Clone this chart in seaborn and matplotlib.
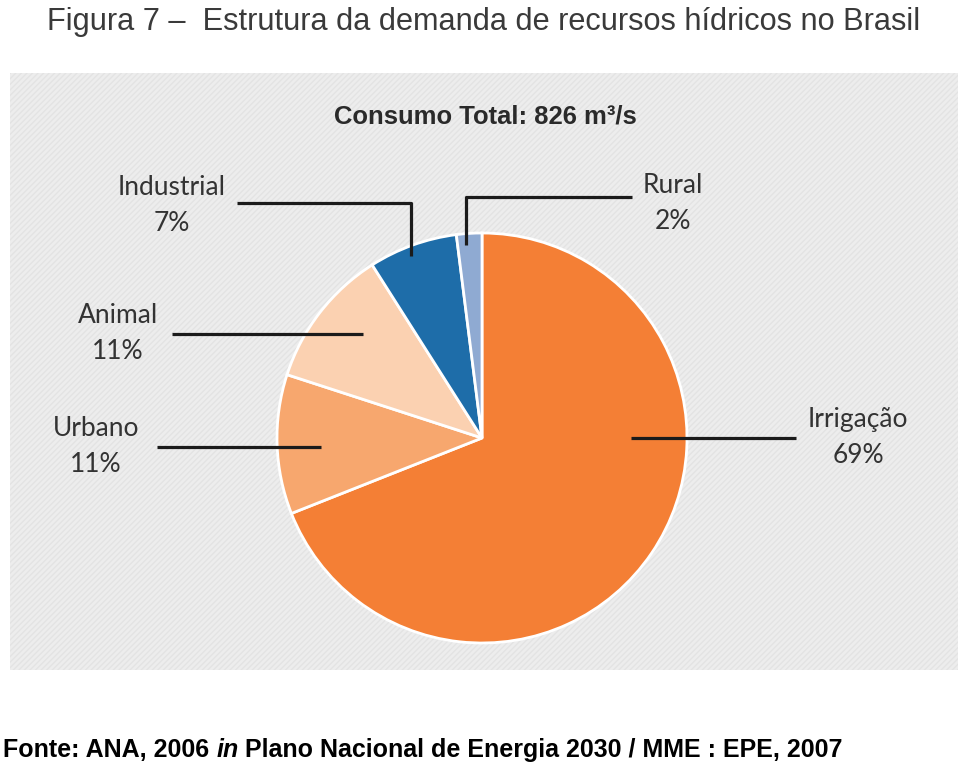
import matplotlib
matplotlib.use("Agg")
import matplotlib.pyplot as plt
import seaborn as sns
from matplotlib import font_manager
from matplotlib.patches import Rectangle

# ---------------- data ----------------
categories = ["Irrigação", "Urbano", "Animal", "Industrial", "Rural"]
shares = [69, 11, 11, 7, 2]
slice_colors = ["#F47F35", "#F7A76E", "#FBD1B1", "#1E6DA9", "#8FAAD2"]
title_text = "Figura 7 –  Estrutura da demanda de recursos hídricos no Brasil"
subtitle_text = "Consumo Total: 826 m³/s"
footer_parts = [("Fonte: ANA, 2006 ", "normal"), ("in", "italic"),
                (" Plano Nacional de Energia 2030 / MME : EPE, 2007", "normal")]

# ---------------- layout (pixel coords, y measured from top) ----------------
W, H = 960, 763
label_pos = {  # centre x, baseline of first line
    "Irrigação": (858, 427),
    "Urbano": (96, 436),
    "Animal": (118, 323),
    "Industrial": (172, 195),
    "Rural": (673, 193),
}
leader_lines = {
    "Irrigação": [(631, 438), (796, 438)],
    "Urbano": [(157, 447), (321, 447)],
    "Animal": [(172, 334), (363, 334)],
    "Industrial": [(237, 203), (411, 203), (411, 256)],
    "Rural": [(632, 197), (466, 197), (466, 245)],
}

sns.set_theme(style="white")


def has_font(name):
    try:
        font_manager.findfont(font_manager.FontProperties(family=name),
                              fallback_to_default=False)
        return True
    except Exception:
        return False


narrow = "Liberation Sans Narrow" if has_font("Liberation Sans Narrow") else "Liberation Sans"
label_font = "Lato" if has_font("Lato") else "DejaVu Sans"
plt.rcParams["font.family"] = [label_font, "DejaVu Sans"]

fig = plt.figure(figsize=(W / 100, H / 100), dpi=100)
fig.patch.set_facecolor("white")
ax = fig.add_axes([0, 0, 1, 1])


def Y(y):
    return H - y


# background panel
ax.add_patch(Rectangle((10, Y(670)), 948, 597, facecolor="#EDEDED",
                       edgecolor="#E3E3E3", linewidth=0, hatch="//////", zorder=0))
plt.rcParams["hatch.linewidth"] = 0.4

# pie
wedges, _ = ax.pie(shares, colors=slice_colors, startangle=90, counterclock=False,
                   center=(482, Y(438)), radius=205,
                   wedgeprops=dict(edgecolor="white", linewidth=2))
for w in wedges:
    w.set_zorder(2)

ax.set_xlim(0, W)
ax.set_ylim(0, H)
ax.set_axis_off()

# leader lines
for name, pts in leader_lines.items():
    xs = [p[0] for p in pts]
    ys = [Y(p[1]) for p in pts]
    ax.plot(xs, ys, color="#1b1b1b", linewidth=2.3, solid_capstyle="butt", zorder=3)

# labels
for name, val in zip(categories, shares):
    x, yb = label_pos[name]
    ax.text(x, Y(yb), name, ha="center", va="baseline", fontsize=19,
            color="#333333", zorder=4)
    ax.text(x, Y(yb + 36), f"{val}%", ha="center", va="baseline", fontsize=19,
            color="#333333", zorder=4)

renderer = fig.canvas.get_renderer()


def fit_width(t, target):
    bb = t.get_window_extent(renderer)
    t.set_fontsize(t.get_fontsize() * target / bb.width)


# title
t = ax.text(484, Y(30), title_text, ha="center", va="baseline", fontsize=22,
            family=[narrow, "DejaVu Sans"], color="#3a3a3a")
fit_width(t, 872)

# subtitle
s = ax.text(485, Y(124), subtitle_text, ha="center", va="baseline", fontsize=17,
            family=[narrow, "DejaVu Sans"], fontweight="bold", color="#2a2a2a")
fit_width(s, 304)

# footer
fs = 18
texts = []
x = 3
for txt, style in footer_parts:
    tt = ax.text(x, Y(757), txt, ha="left", va="baseline", fontsize=fs,
                 family=["Liberation Sans", "DejaVu Sans"], fontweight="bold",
                 style=style, color="black")
    texts.append(tt)
    x += tt.get_window_extent(renderer).width
total = x - 3
scale = 840 / total
x = 3
for tt in texts:
    tt.set_fontsize(fs * scale)
    tt.set_x(x)
    x += tt.get_window_extent(renderer).width

fig.savefig("out.png", dpi=100, facecolor="white")
